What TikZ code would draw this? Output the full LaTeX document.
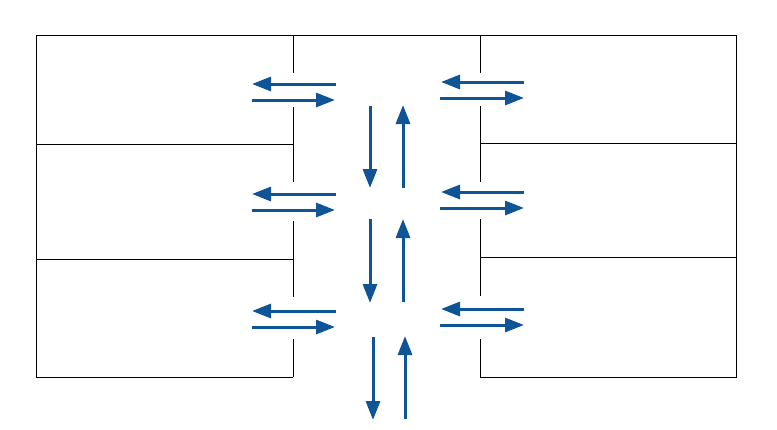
\documentclass[tikz,border=0pt]{standalone}
\usepackage{tikz}
\usetikzlibrary{arrows.meta}
\definecolor{flowblue}{RGB}{14,84,150}

\begin{document}
\begin{tikzpicture}[x=1pt, y=-1pt,
        wall/.style={line width=1pt},
        flow/.style={draw=flowblue, line width=3pt, -{Triangle[length=19pt, width=14pt]}}]
        \useasboundingbox (0, 0) rectangle (777, 429);
        % outline of the rooms
        \draw[wall] (293, 377) -- (36, 377) -- (36, 35) -- (736, 35) -- (736, 377) -- (480, 377);
        \foreach \y in {144, 259}
            \draw[wall] (36, \y) -- (293, \y);
        \foreach \y in {143, 257}
            \draw[wall] (480, \y) -- (736, \y);
        % walls with doorways
        \foreach \a/\b in {35/73, 107/182, 221/297, 339/377}
            \draw[wall] (293, \a) -- (293, \b);
        \foreach \a/\b in {35/73, 106/182, 219/296, 339/377}
            \draw[wall] (480, \a) -- (480, \b);
        % flows through the doors
        \foreach \y in {84, 194, 311} {
            \coordinate (lo\y) at (336, \y);
            \coordinate (li\y) at (252, \y);
            \draw[flow] (lo\y) -- (li\y);
            \draw[flow] (252, \y + 16) -- (335, \y + 16);
        }
        \foreach \y in {82, 192, 309} {
            \draw[flow] (524, \y) -- (441, \y);
            \draw[flow] (440, \y + 16) -- (524, \y + 16);
        }
        % flows along the corridor
        \foreach \x/\a/\b in {370/106/188, 370/219/303, 373/337/420}
            \draw[flow] (\x, \a) -- (\x, \b);
        \foreach \x/\a/\b in {403/188/105, 403/302/219, 405/419/336}
            \draw[flow] (\x, \a) -- (\x, \b);
    \end{tikzpicture}
\end{document}
